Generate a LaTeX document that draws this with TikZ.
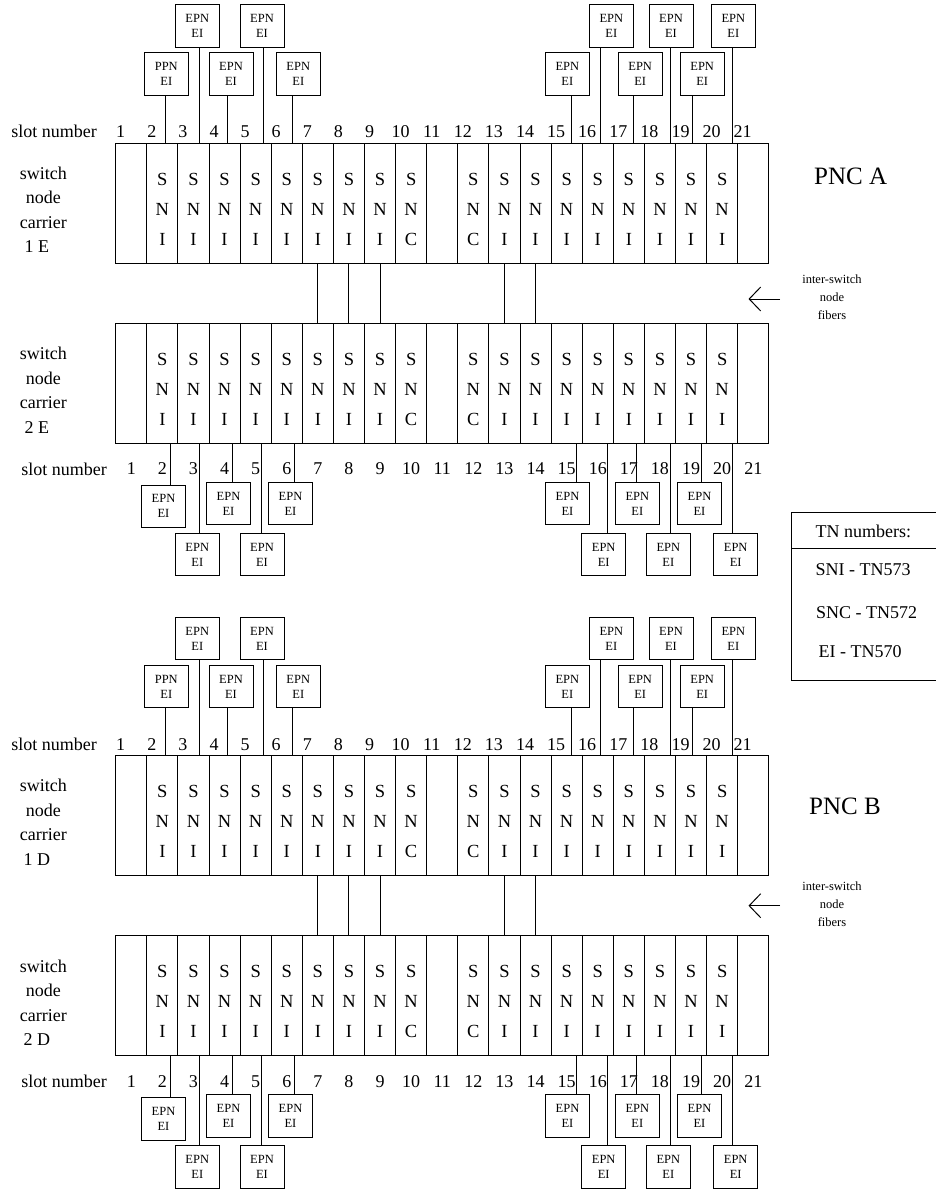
\documentclass[tikz,border=0pt]{standalone}
\usepackage{fontspec}
\setmainfont{Liberation Serif}
\usetikzlibrary{arrows.meta,calc,positioning}

\tikzset{
  carrier/.style={draw,minimum width=653pt,minimum height=120pt,inner sep=0pt,outer sep=0pt},
  card/.style={font=\fontsize{18.5}{30}\selectfont,align=center,inner sep=0pt},
  slotnum/.style={font=\fontsize{18}{20}\selectfont,inner sep=0pt},
  sidelbl/.style={font=\fontsize{18}{24.5}\selectfont,align=center,inner sep=0pt},
  eibox/.style={draw,minimum width=44pt,minimum height=42.5pt,inner sep=0pt,align=center,
    font=\fontsize{12.5}{15}\selectfont},
  fibtxt/.style={font=\fontsize{12.5}{18}\selectfont,align=center,inner sep=0pt},
  pnc/.style={font=\fontsize{25}{28}\selectfont,inner sep=0pt},
}

\begin{document}
\begin{tikzpicture}[x=1pt,y=-1pt,line width=1pt]
  \useasboundingbox (0,0) rectangle (935,1190);
  \foreach \p/\dy/\c/\ay/\px/\py in {A/0/E/299/850.7/176.7,B/612.5/D/905.7/845/806.7}{
    % the two carriers
    \node[carrier] (up\p) at (442.2,203.3+\dy) {};
    \node[carrier] (dn\p) at (442.2,383.3+\dy) {};
    \foreach \i in {1,...,20}{
      \draw (up\p.north west) ++(\i*31.1,0) -- ++(0,120);
      \draw (dn\p.north west) ++(\i*31.1,0) -- ++(0,120);
    }
    \foreach \i/\t in {2/I,3/I,4/I,5/I,6/I,7/I,8/I,9/I,10/C,12/C,13/I,14/I,15/I,16/I,17/I,18/I,19/I,20/I}{
      \node[card] (s\p\i) at (100.15+\i*31.1,209.3+\dy) {S\\N\\\t};
      \node[card] (t\p\i) at (100.15+\i*31.1,389.3+\dy) {S\\N\\\t};
    }
    \foreach \i in {1,...,21}{
      \node[slotnum] (nu\p\i) at (89.6+\i*31.1,131.7+\dy) {\i};
      \node[slotnum] (nd\p\i) at (100.15+\i*31.1,469+\dy) {\i};
    }
    \node[slotnum] (snu\p) at (54.2,131.7+\dy) {slot number};
    \node[slotnum] (snd\p) at (64.2,469+\dy) {slot number};
    \node[sidelbl] (lu\p) at (43.3,210+\dy) {switch\\node\\carrier\\1 \c\hspace*{13pt}};
    \node[sidelbl] (ld\p) at (43.3,390.5+\dy) {switch\\node\\carrier\\2 \c\hspace*{13pt}};
    % inter-switch node fibers
    \foreach \i in {7,8,9,13,14}
      \draw (s\p\i |- up\p.south) -- (s\p\i |- dn\p.north);
    % EI boxes above and below
    \foreach \n/\bx/\by/\lx/\lab in {2/166.3/74/165/PPN,3/197.3/26.1/199/EPN,4/231/74/227.3/EPN,
        5/262/26.1/263.3/EPN,6/298.3/74/292/EPN,15/567.3/74/571.3/EPN,16/611.3/26.1/600/EPN,
        17/640.2/74/633.3/EPN,18/671/26.1/670/EPN,19/702.2/74/692.7/EPN,20/733.3/26.1/732.3/EPN}{
      \node[eibox] (eu\p\n) at (\bx,\by+\dy) {\lab\\EI};
      \coordinate (cu\p\n) at (\lx,143.3+\dy);
      \draw (cu\p\n) -- (cu\p\n |- eu\p\n.south);
    }
    \foreach \n/\bx/\by/\lx in {2/163.5/506.3/170.7,3/197.3/554.5/199,4/228.5/503.7/232.3,
        5/262/554.5/261,6/290.5/503.7/294.3,15/567.5/503.7/576.7,16/603.7/554.5/607.7,
        17/637.3/503.7/636.3,18/668.3/554.5/670,19/699.5/503.7/701,20/735.7/554.5/732.3}{
      \node[eibox] (ed\p\n) at (\bx,\by+\dy) {EPN\\EI};
      \coordinate (cd\p\n) at (\lx,443.3+\dy);
      \draw (cd\p\n) -- (cd\p\n |- ed\p\n.north);
    }
    \coordinate (at\p) at (780,\ay);
    \coordinate (ah\p) at (748.5,\ay);
    \draw[-{Straight Barb[length=11.5pt,width=24pt]}] (at\p) -- (ah\p);
    \node[fibtxt] (fib\p) at (832,\ay-1.5) {inter-switch\\node\\fibers};
    \node[pnc] (pnc\p) at (\px,\py) {PNC \p};
  }
  % TN numbers legend
  \draw (936,512.3) -| (791.7,680) -- (936,680);
  \draw (791.7,548.3) -- (936,548.3);
  \node[slotnum] (tnhead) at (863.3,531.7) {TN numbers:};
  \node[slotnum] (tnsni) at (863,570) {SNI - TN573};
  \node[slotnum] (tnsnc) at (866.7,612.3) {SNC - TN572};
  \node[slotnum] (tnei) at (860,651.7) {EI - TN570};
\end{tikzpicture}
\end{document}
